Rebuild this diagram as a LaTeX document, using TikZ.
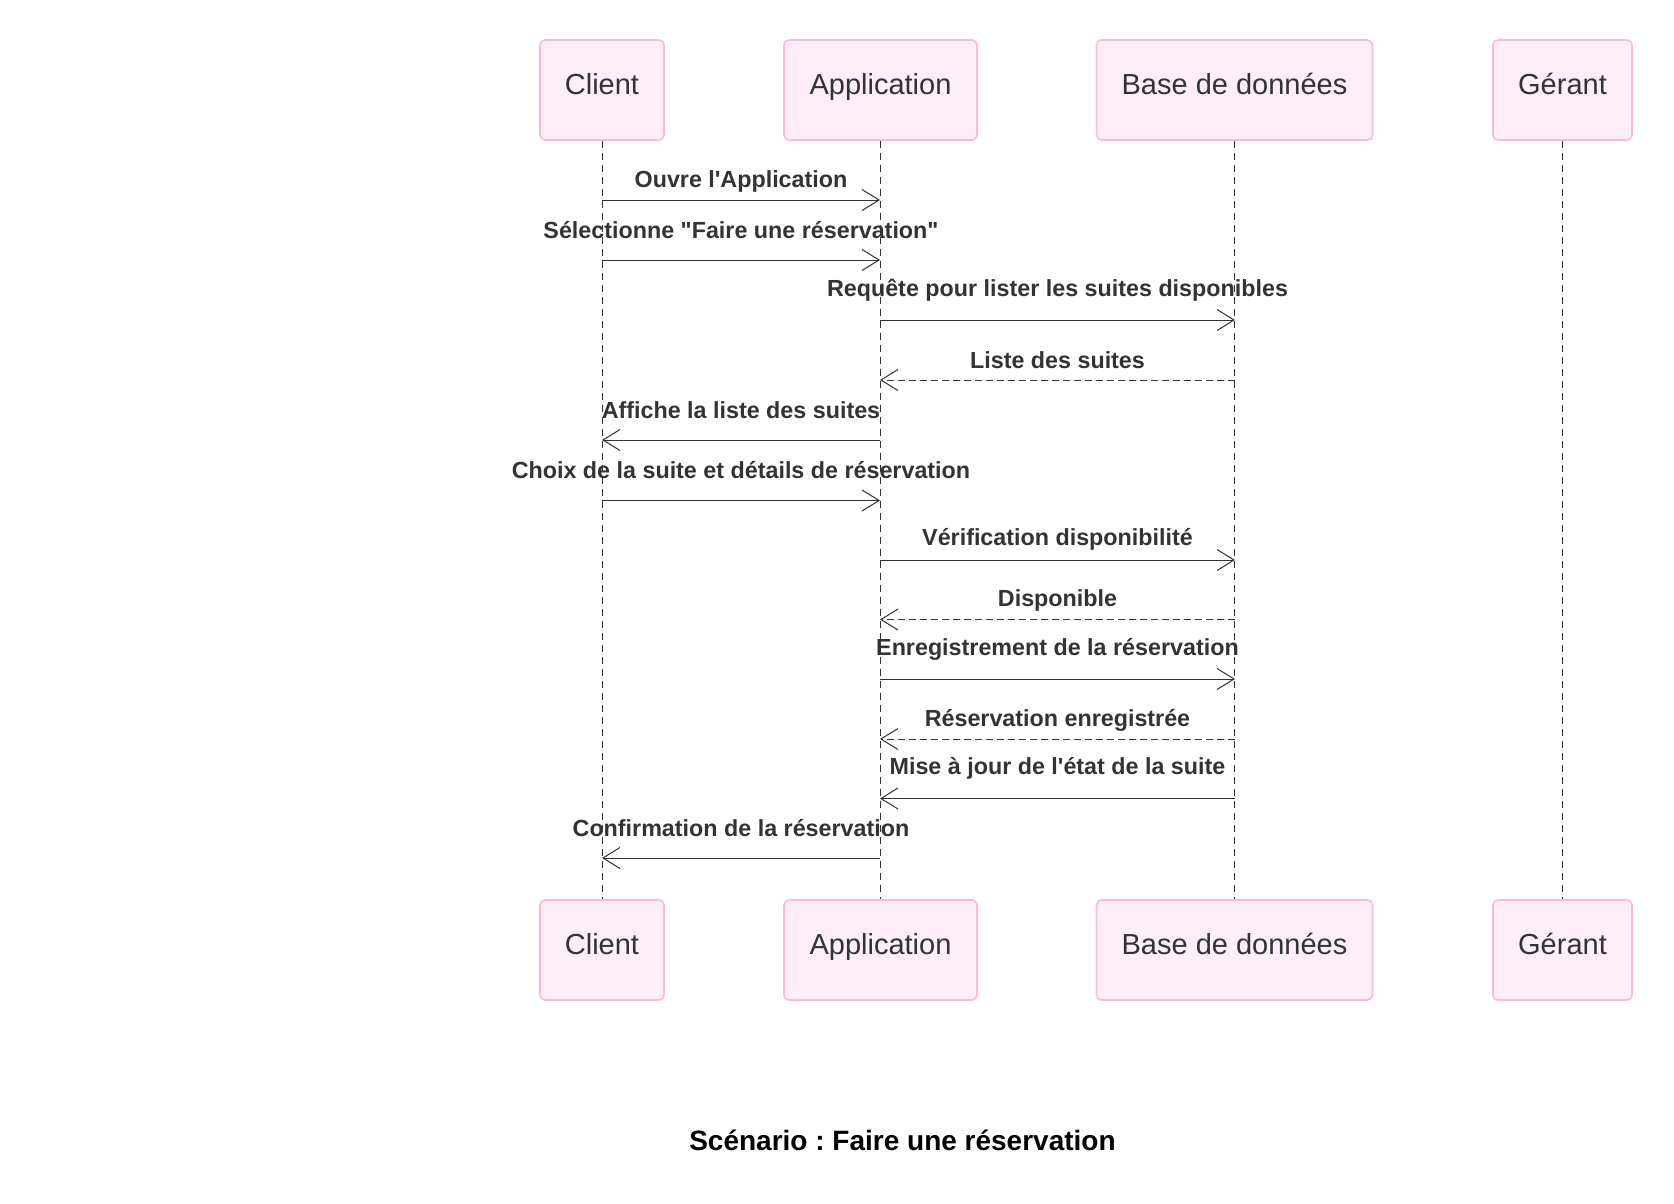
\documentclass[tikz,border=0pt]{standalone}
\usepackage{fontspec}
\setmainfont{Liberation Sans}
\usepackage{tikz}
\usetikzlibrary{arrows.meta}
\definecolor{actfill}{HTML}{FFEDF8}
\definecolor{actline}{HTML}{FFB7DA}
\definecolor{ink}{HTML}{333333}
\tikzset{
	actor/.style={draw=actline,fill=actfill,line width=1.6pt,rounded corners=5pt,
		minimum height=100pt,text height=21pt,text depth=12pt,inner xsep=0pt,
		text=ink,font=\fontsize{29}{34}\selectfont},
	vida/.style={draw=ink,line width=0.9pt,dash pattern=on 7pt off 5pt},
	msg/.style={draw=ink,line width=1pt,-{Straight Barb[length=17pt,width=21pt,line width=1pt]}},
	resp/.style={msg,dash pattern=on 7pt off 4pt},
	etiq/.style={text=ink,font=\fontsize{23.3}{28}\selectfont\bfseries,inner sep=0pt}
}
\begin{document}
\begin{tikzpicture}[x=1pt,y=-1pt]
				\useasboundingbox[fill=white] (0,0) rectangle (1674,1203);
				%Nodes
				\node[actor,minimum width=124pt] (cli)  at (602,90)   {Client};
				\node[actor,minimum width=193pt] (app)  at (880.5,90) {Application};
				\node[actor,minimum width=276pt] (bd)   at (1234.5,90) {Base de données};
				\node[actor,minimum width=139pt] (ger)  at (1562.5,90) {Gérant};
				\coordinate      (c0) 	at 	(602,200);
				\coordinate      (a0) 	at 	(880,200);
				\coordinate      (c1) 	at 	(602,260);
				\coordinate      (a1) 	at 	(880,260);
				\coordinate      (a2) 	at 	(880,320);
				\coordinate      (b2) 	at 	(1235,320);
				\coordinate      (a3) 	at 	(880,380);
				\coordinate      (b3) 	at 	(1235,380);
				\coordinate      (c4) 	at 	(602,440);
				\coordinate      (a4) 	at 	(880,440);
				\coordinate      (c5) 	at 	(602,500.5);
				\coordinate      (a5) 	at 	(880,500.5);
				\coordinate      (a6) 	at 	(880,560);
				\coordinate      (b6) 	at 	(1235,560);
				\coordinate      (a7) 	at 	(880,619.5);
				\coordinate      (b7) 	at 	(1235,619.5);
				\coordinate      (a8) 	at 	(880,679);
				\coordinate      (b8) 	at 	(1235,679);
				\coordinate      (a9) 	at 	(880,739);
				\coordinate      (b9) 	at 	(1235,739);
				\coordinate      (a10) 	at 	(880,798.5);
				\coordinate      (b10) 	at 	(1235,798.5);
				\coordinate      (c11) 	at 	(602,858);
				\coordinate      (a11) 	at 	(880,858);

				%Lines
				\draw[vida] (cli.south) -- (602,900);
				\draw[vida] (app.south) -- (880.5,900);
				\draw[vida] (bd.south) -- (1234.5,900);
				\draw[vida] (ger.south) -- (1562.5,900);
				\node[actor,minimum width=124pt] (cli2) at (602,950)   {Client};
				\node[actor,minimum width=193pt] (app2) at (880.5,950) {Application};
				\node[actor,minimum width=276pt] (bd2)  at (1234.5,950) {Base de données};
				\node[actor,minimum width=139pt] (ger2) at (1562.5,950) {Gérant};

				\draw[msg] (c0) -- (a0);
				\draw[msg] (c1) -- (a1);
				\draw[msg] (a2) -- (b2);
				\draw[resp] (b3) -- (a3);
				\draw[msg] (a4) -- (c4);
				\draw[msg] (c5) -- (a5);
				\draw[msg] (a6) -- (b6);
				\draw[resp] (b7) -- (a7);
				\draw[msg] (a8) -- (b8);
				\draw[resp] (b9) -- (a9);
				\draw[msg] (b10) -- (a10);
				\draw[msg] (a11) -- (c11);

				%Labels
				\node[etiq] (l0)  at (741,181)   {Ouvre l\textquotesingle Application};
				\node[etiq] (l1)  at (741,230.5)   {Sélectionne \textquotedbl Faire une réservation\textquotedbl};
				\node[etiq] (l2)  at (1057.5,290.5) {Requête pour lister les suites disponibles};
				\node[etiq] (l3)  at (1057.5,360) {Liste des suites};
				\node[etiq] (l4)  at (741,410)     {Affiche la liste des suites};
				\node[etiq] (l5)  at (741,470)     {Choix de la suite et détails de réservation};
				\node[etiq] (l6)  at (1057.5,539.5)  {Vérification disponibilité};
				\node[etiq] (l7)  at (1057.5,600.5)  {Disponible};
				\node[etiq] (l8)  at (1057.5,649)  {Enregistrement de la réservation};
				\node[etiq] (l9)  at (1057.5,720) {Réservation enregistrée};
				\node[etiq] (l10) at (1057.5,768.5) {Mise à jour de l\textquotesingle état de la suite};
				\node[etiq] (l11) at (741,828.5)   {Confirmation de la réservation};

				\node[font=\fontsize{28}{33}\selectfont\bfseries\frenchspacing] (titre) at (902.5,1140) {Scénario : Faire une réservation};
\end{tikzpicture}
\end{document}
